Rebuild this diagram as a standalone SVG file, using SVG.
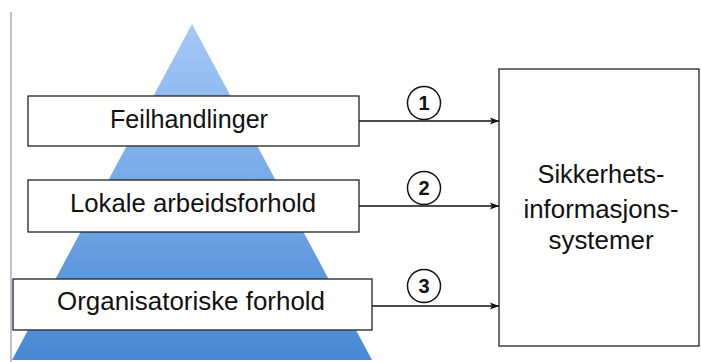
<svg xmlns="http://www.w3.org/2000/svg" width="701" height="362" viewBox="0 0 701 362">
<style>
.box{fill:#fff;stroke:#222;stroke-width:1.3}
.lbl{font-family:"Liberation Sans",Arial,sans-serif;font-size:25px;fill:#111;text-anchor:middle}
.num{font-family:"Liberation Sans",Arial,sans-serif;font-size:20px;font-weight:bold;fill:#111;text-anchor:middle}
.conn{stroke:#111;stroke-width:1.6;fill:none;marker-end:url(#ah)}
.circ{fill:#fff;stroke:#111;stroke-width:1.5}
</style>
<defs>
<linearGradient id="tg" x1="0" y1="0" x2="0" y2="1">
<stop offset="0" stop-color="#a6c9f6"/>
<stop offset="0.5" stop-color="#74a8e6"/>
<stop offset="1" stop-color="#4889d4"/>
</linearGradient>
<marker id="ah" markerWidth="10" markerHeight="8" refX="9" refY="4" orient="auto" markerUnits="userSpaceOnUse">
<path d="M0,0.5 L9,4 L0,7.5 L2,4 Z" fill="#111"/>
</marker>
</defs>
<rect width="701" height="362" fill="#fff"/>
<line x1="11" y1="12" x2="11" y2="362" stroke="#8d9cb6" stroke-width="1.2"/>
<g id="pyramid"><polygon points="192,24 372,360 12,360" fill="url(#tg)"/></g>
<g id="connectors">
<line class="conn" x1="359" y1="121" x2="499" y2="121"/>
<line class="conn" x1="359" y1="206" x2="499" y2="206"/>
<line class="conn" x1="372" y1="306" x2="499" y2="306"/>
</g>
<g id="n1"><rect class="box" x="28" y="96" width="331" height="50"/><text class="lbl" x="189" y="128" textLength="158" lengthAdjust="spacingAndGlyphs">Feilhandlinger</text></g>
<g id="n2"><rect class="box" x="28" y="180" width="331" height="52"/><text class="lbl" x="193" y="212" textLength="246" lengthAdjust="spacingAndGlyphs">Lokale arbeidsforhold</text></g>
<g id="n3"><rect class="box" x="13" y="279" width="359" height="51"/><text class="lbl" x="191" y="310" textLength="268" lengthAdjust="spacingAndGlyphs">Organisatoriske forhold</text></g>
<g id="sis"><rect class="box" x="499" y="69" width="200" height="277"/>
<text class="lbl" x="601" y="183" textLength="127" lengthAdjust="spacingAndGlyphs">Sikkerhets-</text>
<text class="lbl" x="601" y="218" textLength="155" lengthAdjust="spacingAndGlyphs">informasjons-</text>
<text class="lbl" x="601" y="249" textLength="105" lengthAdjust="spacingAndGlyphs">systemer</text></g>
<g id="c1"><circle class="circ" cx="424" cy="103" r="16.5"/><text class="num" x="424" y="110">1</text></g>
<g id="c2"><circle class="circ" cx="424" cy="188" r="16.5"/><text class="num" x="424" y="195">2</text></g>
<g id="c3"><circle class="circ" cx="424" cy="286" r="16.5"/><text class="num" x="424" y="293">3</text></g>
</svg>
